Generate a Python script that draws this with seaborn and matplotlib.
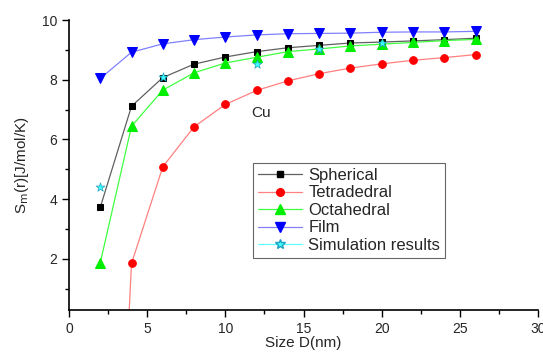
import matplotlib
matplotlib.use("Agg")
import matplotlib.pyplot as plt
from matplotlib.lines import Line2D
from matplotlib.ticker import MultipleLocator
import seaborn as sns
import pandas as pd

sns.set_theme(style="ticks")
plt.rcParams['font.family'] = ['Liberation Sans', 'DejaVu Sans']

size = [2, 4, 6, 8, 10, 12, 14, 16, 18, 20, 22, 24, 26]
spherical = [3.72, 7.11, 8.07, 8.52, 8.76, 8.94, 9.07, 9.15, 9.23, 9.26, 9.30, 9.34, 9.39]
tetradedral = [-19.4, 1.84, 5.08, 6.42, 7.17, 7.64, 7.96, 8.20, 8.39, 8.53, 8.65, 8.74, 8.84]
octahedral = [1.86, 6.44, 7.65, 8.23, 8.56, 8.75, 8.94, 9.03, 9.13, 9.19, 9.25, 9.31, 9.35]
film = [8.04, 8.92, 9.20, 9.34, 9.43, 9.50, 9.54, 9.55, 9.56, 9.59, 9.60, 9.60, 9.62]
sim_size = [2, 6, 12, 16, 20]
sim_values = [4.41, 8.08, 8.52, 9.03, 9.24]

series = [
    ("Spherical", spherical, "#606060", "black", "s", 5),
    ("Tetradedral", tetradedral, "#ff8080", "red", "o", 5.5),
    ("Octahedral", octahedral, "#40ff40", "#00ee00", "^", 6.5),
    ("Film", film, "#8080ff", "#0000ff", "v", 6.5),
]

fig = plt.figure(figsize=(5.43, 3.54), dpi=100)
ax = fig.add_axes([0.127, 0.1234, 0.864, 0.8201])

handles = []
for name, vals, lc, mc, mk, ms in series:
    df = pd.DataFrame({"x": size, "y": vals})
    sns.lineplot(data=df, x="x", y="y", ax=ax, color=lc, lw=0.9,
                 marker=mk, markersize=ms, markerfacecolor=mc,
                 markeredgecolor=mc, legend=False, clip_on=True)
    handles.append(Line2D([], [], color=lc, lw=0.9, marker=mk, markersize=ms,
                          markerfacecolor=mc, markeredgecolor=mc, label=name))

sim_df = pd.DataFrame({"x": sim_size, "y": sim_values})
sns.scatterplot(data=sim_df, x="x", y="y", ax=ax, marker="*", s=45,
                color="#40ffff", edgecolor="#20a0c0", linewidth=0.5, legend=False, zorder=5)
handles.append(Line2D([], [], color="#60ffff", lw=0.9, marker="*", markersize=7,
                      markerfacecolor="#40ffff", markeredgecolor="#20a0c0",
                      label="Simulation results"))

ax.set_xlim(0, 30)
ax.set_ylim(0.27, 10)
ax.xaxis.set_major_locator(MultipleLocator(5))
ax.xaxis.set_minor_locator(MultipleLocator(2.5))
ax.yaxis.set_major_locator(MultipleLocator(2))
ax.yaxis.set_minor_locator(MultipleLocator(1))
ax.tick_params(which="major", length=5, width=1, labelsize=10, color="black", direction="out")
ax.tick_params(which="minor", length=3, width=1, color="black", direction="out")
for s in ["top", "right"]:
    ax.spines[s].set_visible(False)
for s in ["left", "bottom"]:
    ax.spines[s].set_color("black")
    ax.spines[s].set_linewidth(1.2)

ax.set_xlabel("Size D(nm)", fontsize=11, labelpad=0)
ax.set_ylabel("S$_{\\rm m}$(r)[J/mol/K)", fontsize=11, labelpad=8)
ax.text(11.65, 6.88, "Cu", fontsize=11, va="center", ha="left")

leg = ax.legend(handles=handles, loc="upper left", bbox_to_anchor=(0.393, 0.508),
                fontsize=12, frameon=True, fancybox=False, edgecolor="#404040",
                handlelength=2.6, handletextpad=0.4, borderpad=0.3, labelspacing=0.15,
                borderaxespad=0)
leg.get_frame().set_linewidth(0.8)

fig.savefig("out.png", dpi=100)
